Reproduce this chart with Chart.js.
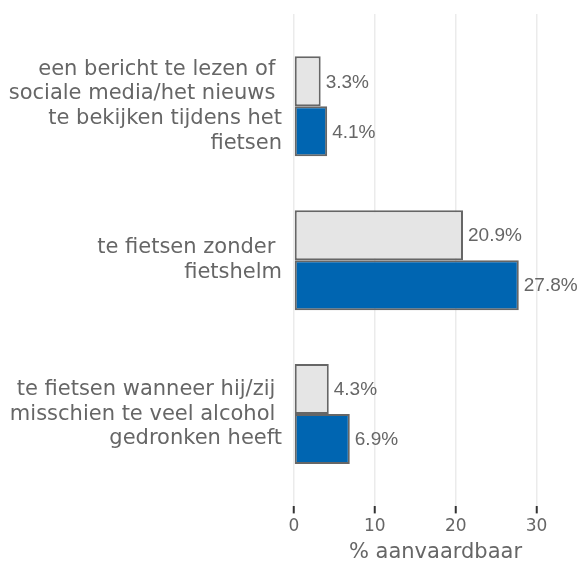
<!DOCTYPE html>
<html>
<head>
<meta charset="utf-8">
<script src="https://cdn.jsdelivr.net/npm/chart.js@4"></script>
<style>
  html, body { margin: 0; padding: 0; background: #fff; }
</style>
</head>
<body>
<canvas id="chart1" width="583" height="568"></canvas>
<script>
  "use strict";

  // data
  var categories = [
    ["een bericht te lezen of ", "sociale media/het nieuws ", "te bekijken tijdens het", "fietsen"],
    ["te fietsen zonder ", "fietshelm"],
    ["te fietsen wanneer hij/zij ", "misschien te veel alcohol ", "gedronken heeft"]
  ];
  var greyValues = [3.3, 20.9, 4.3];
  var blueValues = [4.1, 27.8, 6.9];
  var xTicks = [0, 10, 20, 30];
  var xTitle = "% aanvaardbaar";

  var textColor = "#666";

  // value labels right of the bars
  var barLabels = {
    id: "barLabels",
    afterDatasetsDraw: function (chart) {
      var ctx = chart.ctx;
      ctx.save();
      ctx.font = "19px 'Liberation Sans', Arial, sans-serif";
      ctx.fillStyle = textColor;
      ctx.textAlign = "left";
      ctx.textBaseline = "middle";
      chart.data.datasets.forEach(function (ds, i) {
        chart.getDatasetMeta(i).data.forEach(function (bar, j) {
          ctx.fillText(ds.data[j].x.toFixed(1) + "%", bar.x + 5, bar.y + 1);
        });
      });
      ctx.restore();
    }
  };

  var ctx = document.getElementById('chart1').getContext('2d');

  var myChart = new Chart(ctx, {
    type: 'bar',
    data: {
      datasets: [{
        data: greyValues.map(function (v, i) { return { x: v, y: i + 1 }; }),
        backgroundColor: "#e5e5e5",
        borderColor: "#666",
        borderWidth: 2,
        borderSkipped: false
      },
      {
        data: blueValues.map(function (v, i) { return { x: v, y: i + 1 }; }),
        backgroundColor: "#0065b1",
        borderColor: "#666",
        borderWidth: 2,
        borderSkipped: false
      }]
    },
    plugins: [barLabels],
    options: {
      responsive: false,
      animation: false,
      indexAxis: 'y',
      categoryPercentage: 0.65,
      barPercentage: 1,
      layout: {
        padding: { top: 14, right: 6, bottom: 0, left: 0 }
      },
      plugins: {
        legend: { display: false },
        tooltip: { enabled: false }
      },
      scales: {
        x: {
          type: 'linear',
          min: 0,
          max: 35,
          afterBuildTicks: function (scale) {
            scale.ticks = xTicks.map(function (v) { return { value: v }; });
          },
          ticks: {
            color: textColor,
            padding: 3,
            font: { family: "'DejaVu Sans', sans-serif", size: 17 }
          },
          grid: {
            color: "#ebebeb",
            lineWidth: 1.5,
            tickColor: "#333",
            tickWidth: 2,
            tickLength: 7
          },
          border: { display: false },
          title: {
            display: true,
            text: xTitle,
            color: textColor,
            padding: { top: 0, bottom: 3 },
            font: { family: "'DejaVu Sans', sans-serif", size: 21 }
          }
        },
        y: {
          type: 'linear',
          reverse: true,
          offset: false,
          min: 0.4,
          max: 3.6,
          afterBuildTicks: function (scale) {
            scale.ticks = categories.map(function (c, i) { return { value: i + 1 }; });
          },
          afterFit: function (scale) {
            scale.width = 294;
            scale.paddingTop = 0;
            scale.paddingBottom = 0;
          },
          ticks: {
            color: textColor,
            padding: 12,
            font: { family: "'DejaVu Sans', sans-serif", size: 21, lineHeight: 1.17 },
            callback: function (v) { return categories[v - 1]; }
          },
          grid: { display: false, drawTicks: false, offset: false },
          border: { display: false }
        }
      }
    }
  });
</script>
</body>
</html>
